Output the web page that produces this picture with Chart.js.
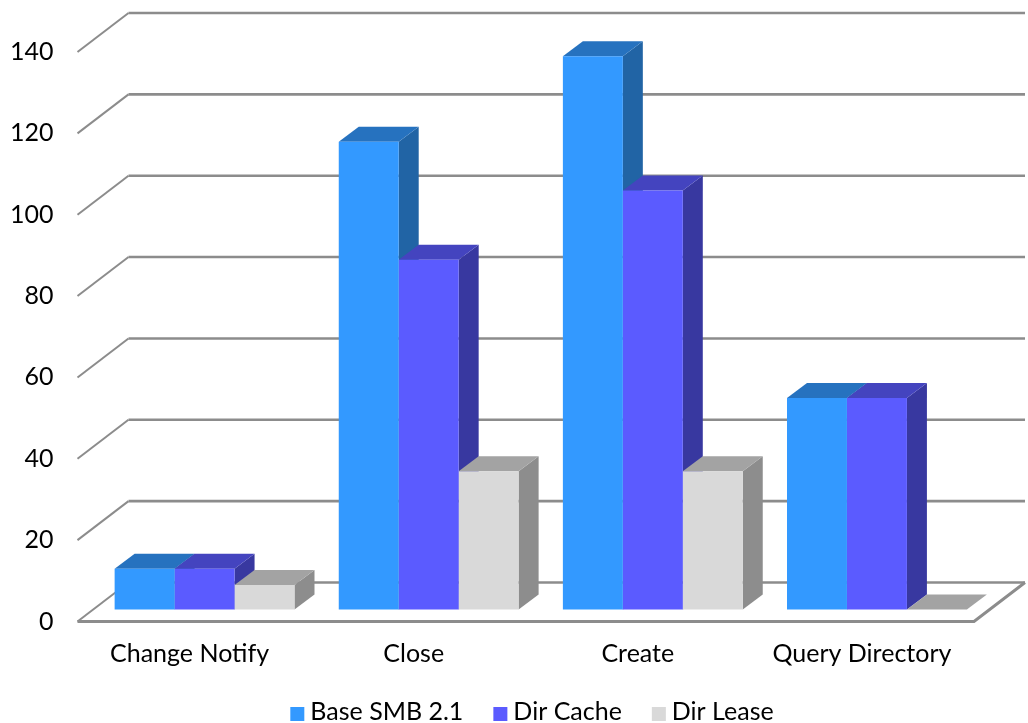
<!DOCTYPE html>
<html>
<head>
<meta charset="utf-8">
<title>SMB round trips</title>
<script src="https://cdn.jsdelivr.net/npm/chart.js@4"></script>
<style>
    html, body { margin: 0; padding: 0; background: #fff; overflow: hidden; }
    canvas { display: block; }
</style>
</head>
<body>
<canvas id="barChart" width="1028" height="723"></canvas>
<script>
const categories = ['Change Notify', 'Close', 'Create', 'Query Directory'];
const seriesNames = ['Base SMB 2.1', 'Dir Cache', 'Dir Lease'];
const baseSmb = [10, 115, 136, 52];
const dirCache = [10, 86, 103, 52];
const dirLease = [6, 34, 34, 0];

const frontColors = ['#3399ff', '#5b5bff', '#d9d9d9'];
const topColors = ['#2672bf', '#4444bf', '#a3a3a3'];
const sideColors = ['#2164a5', '#3838a0', '#8d8d8d'];

const FONT = '25px Lato';
const GRID_COLOR = '#8c8c8c';
// floor depth, and how far the bars stand back from the front edge
const WALL_DX = 51, WALL_DY = 39;
const BAR_DX = 15, BAR_DY = 12;
const DEPTH_DX = 20, DEPTH_DY = 15;

function fillPoly(ctx, color, pts) {
    ctx.fillStyle = color;
    ctx.beginPath();
    pts.forEach((p, i) => i ? ctx.lineTo(p[0], p[1]) : ctx.moveTo(p[0], p[1]));
    ctx.closePath();
    ctx.fill();
}

function line(ctx, width, pts) {
    ctx.strokeStyle = GRID_COLOR;
    ctx.lineWidth = width;
    ctx.beginPath();
    pts.forEach((p, i) => i ? ctx.lineTo(p[0], p[1]) : ctx.moveTo(p[0], p[1]));
    ctx.stroke();
}

const depthPlugin = {
    id: 'depth',
    beforeDatasetsDraw(chart) {
        const ctx = chart.ctx;
        const area = chart.chartArea;
        const yScale = chart.scales.y;

        // walls and floor
        yScale.ticks.forEach((tick) => {
            let y = yScale.getPixelForValue(tick.value);
            line(ctx, 2, [[area.left, y], [area.left + WALL_DX, y - WALL_DY]]);
            line(ctx, 2.6, [[area.left + WALL_DX, y - WALL_DY], [area.right + WALL_DX, y - WALL_DY]]);
        });
        let y0 = yScale.getPixelForValue(0);
        line(ctx, 3, [[area.left, y0], [area.right, y0], [area.right + WALL_DX, y0 - WALL_DY]]);

        // top and side of each bar, left to right so later bars overlap earlier ones
        categories.forEach((c, index) => {
            seriesNames.forEach((s, di) => {
                let bar = chart.getDatasetMeta(di).data[index];
                let left = bar.x - bar.width / 2 + BAR_DX;
                let right = bar.x + bar.width / 2 + BAR_DX;
                let top = bar.y - BAR_DY;
                let base = bar.base - BAR_DY;
                fillPoly(ctx, sideColors[di], [
                    [right, top], [right + DEPTH_DX, top - DEPTH_DY],
                    [right + DEPTH_DX, base - DEPTH_DY], [right, base]
                ]);
                fillPoly(ctx, topColors[di], [
                    [left, top], [left + DEPTH_DX, top - DEPTH_DY],
                    [right + DEPTH_DX, top - DEPTH_DY], [right, top]
                ]);
            });
        });
    },
    beforeDatasetDraw(chart) {
        chart.ctx.save();
        chart.ctx.translate(BAR_DX, -BAR_DY);
    },
    afterDatasetDraw(chart) {
        chart.ctx.restore();
    },
    afterDraw(chart) {
        // legend: small gap between swatch and text, centred under the plot
        const ctx = chart.ctx;
        ctx.save();
        ctx.font = FONT;
        ctx.textBaseline = 'middle';
        ctx.textAlign = 'left';
        let widths = seriesNames.map((s) => 14 + 6 + ctx.measureText(s).width);
        let total = widths.reduce((a, b) => a + b, 0) + 30 * (seriesNames.length - 1);
        let x = (chart.width - total) / 2 + 18;
        seriesNames.forEach((s, i) => {
            ctx.fillStyle = frontColors[i];
            ctx.fillRect(x, 707, 14, 14);
            ctx.fillStyle = '#000';
            ctx.fillText(s, x + 20, 712);
            x += widths[i] + 30;
        });
        ctx.restore();
    }
};

new Chart(document.getElementById('barChart'), {
    type: 'bar',
    data: {
        labels: categories,
        datasets: [baseSmb, dirCache, dirLease].map((values, i) => ({
            label: seriesNames[i],
            data: values,
            backgroundColor: frontColors[i],
            borderWidth: 0,
            categoryPercentage: 0.8025,
            barPercentage: 1,
            clip: false
        }))
    },
    options: {
        responsive: false,
        animation: false,
        layout: { padding: { top: 52, right: 54, bottom: 0, left: 0 } },
        plugins: {
            legend: { display: false },
            tooltip: { enabled: false }
        },
        scales: {
            x: {
                grid: { display: false, drawTicks: false },
                border: { display: false },
                ticks: { color: '#000', font: { family: 'Lato', size: 25 }, padding: 17, maxRotation: 0 },
                afterFit(scale) { scale.height = 101.5; }
            },
            y: {
                min: 0,
                max: 140,
                grid: { display: false, drawTicks: false },
                border: { display: false },
                ticks: { stepSize: 20, color: '#000', font: { family: 'Lato', size: 25 }, padding: 24 },
                afterFit(scale) { scale.width = 77.5; }
            }
        }
    },
    plugins: [depthPlugin]
});
</script>
</body>
</html>
